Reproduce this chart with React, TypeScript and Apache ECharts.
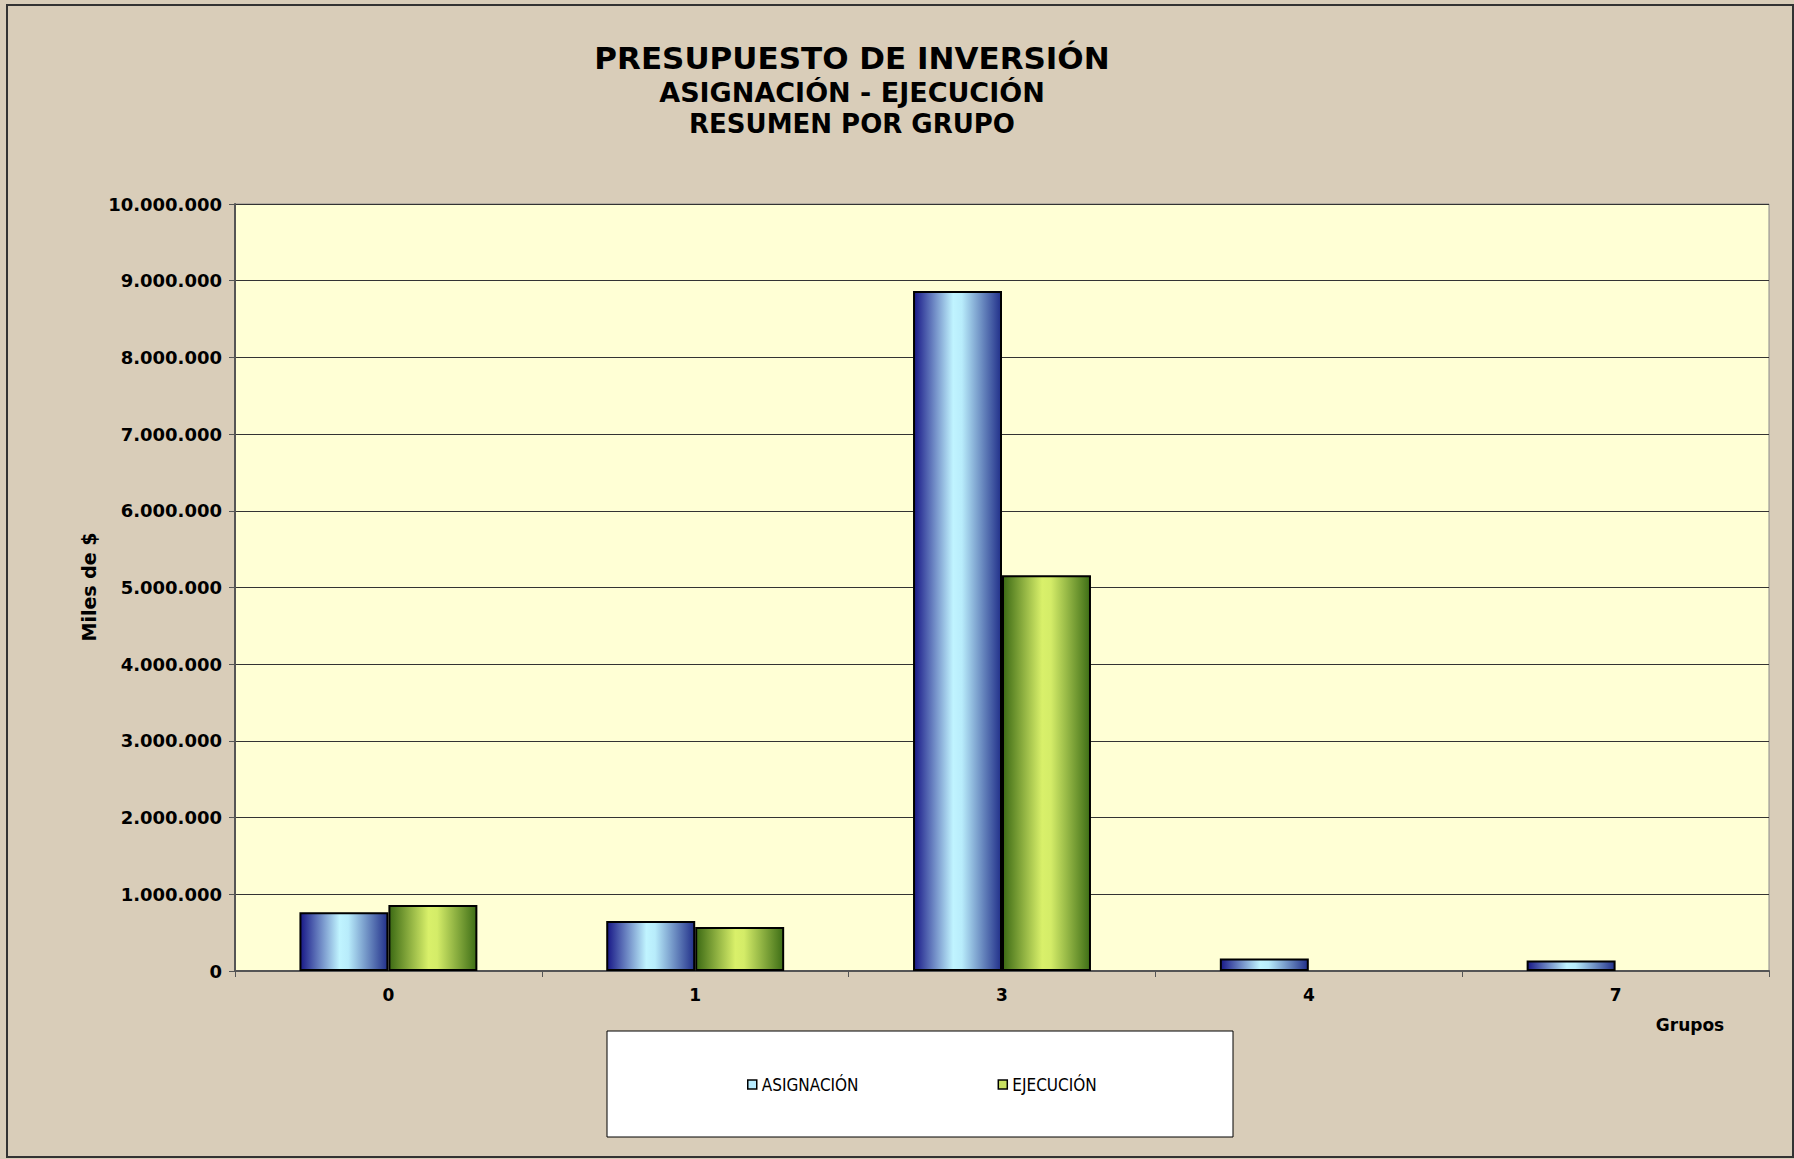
import React, { useEffect, useRef } from "react";
import * as echarts from "echarts";

const categories = ["0", "1", "3", "4", "7"];
const asignacion = [765000, 652000, 8865000, 163000, 137000];
const ejecucion = [861000, 574000, 5160000, 0, 0];
const yTicks = { min: 0, max: 10000000, interval: 1000000 };
const titleLines = ["PRESUPUESTO DE INVERSIÓN", "ASIGNACIÓN - EJECUCIÓN", "RESUMEN POR GRUPO"];
const seriesNames = ["ASIGNACIÓN", "EJECUCIÓN"];

const FONT = "Verdana, 'DejaVu Sans', sans-serif";

function fmt(v: number): string {
  return String(Math.round(v)).replace(/\B(?=(\d{3})+(?!\d))/g, ".");
}

export default function App() {
  const ref = useRef<HTMLDivElement>(null);
  useEffect(() => {
    document.body.style.margin = "0";
    if (!ref.current) return;
    const chart = echarts.init(ref.current, undefined, { renderer: "svg" });
    const blueGrad = new echarts.graphic.LinearGradient(0, 0, 1, 0, [
      { offset: 0, color: "#181887" },
      { offset: 0.45, color: "#c0f4ff" },
      { offset: 0.55, color: "#b8ecfb" },
      { offset: 1, color: "#22308a" },
    ]);
    const greenGrad = new echarts.graphic.LinearGradient(0, 0, 1, 0, [
      { offset: 0, color: "#3c6a14" },
      { offset: 0.45, color: "#d9f06a" },
      { offset: 0.55, color: "#d4ec68" },
      { offset: 1, color: "#3e6e16" },
    ]);
    const hideZero = (arr: number[]) => arr.map((v) => (v === 0 ? null : v));
    chart.setOption({
      animation: false,
      backgroundColor: "#d9cdb9",
      grid: {
        left: 235,
        top: 204,
        right: 25,
        bottom: 188,
        show: true,
        backgroundColor: "#ffffd5",
        borderColor: "#8a8a8a",
        borderWidth: 1,
      },
      xAxis: {
        type: "category",
        data: categories,
        axisLine: { show: true, lineStyle: { color: "#555", width: 2 } },
        axisTick: { show: true, length: 6, lineStyle: { color: "#555" } },
        axisLabel: {
          color: "#000",
          fontSize: 17,
          fontWeight: "bold",
          fontFamily: FONT,
          margin: 15,
        },
      },
      yAxis: {
        type: "value",
        min: yTicks.min,
        max: yTicks.max,
        interval: yTicks.interval,
        axisLine: { show: true, lineStyle: { color: "#555", width: 2 } },
        axisTick: { show: true, length: 6, lineStyle: { color: "#555" } },
        splitLine: { show: true, lineStyle: { color: "#333", width: 1 } },
        axisLabel: {
          color: "#000",
          fontSize: 18,
          fontWeight: "bold",
          fontFamily: FONT,
          margin: 13,
          formatter: (v: number) => fmt(v),
        },
      },
      legend: {
        left: 742,
        top: 1071,
        itemWidth: 9,
        itemHeight: 9,
        itemGap: 139,
        icon: "rect",
        textStyle: { fontSize: 17, color: "#000", fontFamily: "'DejaVu Sans Condensed', 'DejaVu Sans', sans-serif" },
        data: [
          { name: seriesNames[0], itemStyle: { color: "#b8ecff", borderColor: "#000", borderWidth: 1.5 } },
          { name: seriesNames[1], itemStyle: { color: "#c8e060", borderColor: "#000", borderWidth: 1.5 } },
        ],
      },
      series: [
        {
          name: seriesNames[0],
          type: "bar",
          data: hideZero(asignacion),
          barGap: "0%",
          barCategoryGap: "42%",
          itemStyle: { color: blueGrad, borderColor: "#000", borderWidth: 2 },
        },
        {
          name: seriesNames[1],
          type: "bar",
          data: hideZero(ejecucion),
          barGap: "0%",
          barCategoryGap: "42%",
          itemStyle: { color: greenGrad, borderColor: "#000", borderWidth: 2 },
        },
      ],
      graphic: [
        {
          type: "rect",
          z: -1,
          shape: { x: 7, y: 5, width: 1786, height: 1152 },
          style: { fill: "none", stroke: "#333", lineWidth: 2 },
        },
        {
          type: "rect",
          shape: { x: 607, y: 1031, width: 626, height: 106 },
          style: { fill: "#fff", stroke: "#000", lineWidth: 1 },
          z: 0,
        },
        {
          type: "text",
          x: 852,
          y: 58,
          style: {
            text: titleLines[0],
            fontSize: 31,
            fontWeight: "bold",
            fontFamily: FONT,
            fill: "#000",
            align: "center",
            verticalAlign: "middle",
          },
        },
        {
          type: "text",
          x: 852,
          y: 92,
          style: {
            text: titleLines[1],
            fontSize: 27,
            fontWeight: "bold",
            fontFamily: FONT,
            fill: "#000",
            align: "center",
            verticalAlign: "middle",
          },
        },
        {
          type: "text",
          x: 852,
          y: 124,
          style: {
            text: titleLines[2],
            fontSize: 26,
            fontWeight: "bold",
            fontFamily: FONT,
            fill: "#000",
            align: "center",
            verticalAlign: "middle",
          },
        },
        {
          type: "text",
          x: 89,
          y: 587,
          rotation: Math.PI / 2,
          style: {
            text: "Miles de $",
            fontSize: 19,
            fontWeight: "bold",
            fontFamily: FONT,
            fill: "#000",
            align: "center",
            verticalAlign: "middle",
          },
        },
        {
          type: "text",
          x: 1690,
          y: 1025,
          style: {
            text: "Grupos",
            fontSize: 17,
            fontWeight: "bold",
            fontFamily: FONT,
            fill: "#000",
            align: "center",
            verticalAlign: "middle",
          },
        },
      ],
    });
    return () => chart.dispose();
  }, []);
  return <div ref={ref} style={{ width: 1794, height: 1159 }} />;
}
